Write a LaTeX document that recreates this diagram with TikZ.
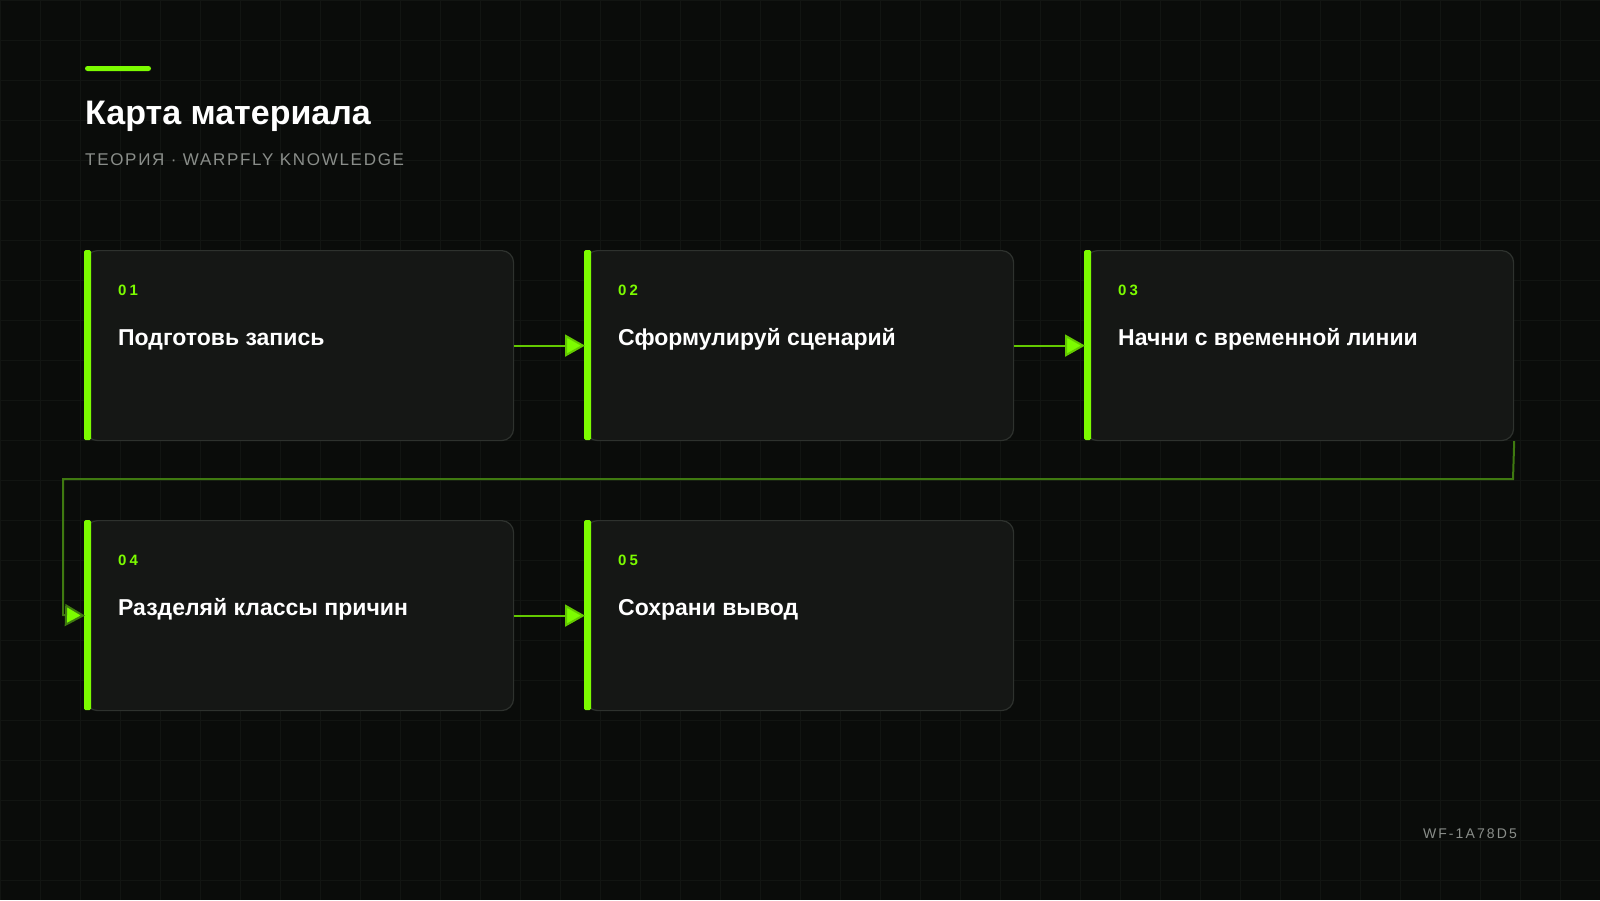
\documentclass[tikz,border=0pt]{standalone}
\usepackage{fontspec}
\setmainfont{Liberation Sans}
\usetikzlibrary{arrows.meta}
\definecolor{bg}{HTML}{0A0C0A}
\definecolor{gridc}{HTML}{121512}
\definecolor{card}{HTML}{151715}
\definecolor{cardb}{HTML}{2E322E}
\definecolor{lime}{HTML}{7CFC00}
\definecolor{dgreen}{HTML}{3F7A10}
\definecolor{sub}{HTML}{8A8E8A}
\begin{document}
\begin{tikzpicture}[x=1pt,y=-1pt,
  box/.style={draw=cardb,line width=1.2pt,fill=card,rounded corners=12pt,minimum width=428pt,minimum height=190pt,anchor=north west,inner sep=0pt},
  num/.style={anchor=base west,text=lime,font=\fontsize{15}{15}\selectfont\bfseries\addfontfeature{LetterSpace=20}},
  ttl/.style={anchor=base west,text=white,font=\fontsize{23}{23}\selectfont\bfseries},
  acc/.style={fill=lime,rounded corners=1.5pt},
  arr/.style={draw=lime!80!black,line width=2pt,-{Triangle[length=20pt,width=22pt,fill=lime]}},
  loop/.style={draw=dgreen,line width=2pt,-{Triangle[length=20pt,width=22pt,fill=lime]}}]
\useasboundingbox (0,0) rectangle (1600,900);
\fill[bg] (0,0) rectangle (1600,900);
\foreach \x in {0,40,...,1600} \draw[gridc,line width=0.6pt] (\x,0) -- (\x,900);
\foreach \y in {0,40,...,900} \draw[gridc,line width=0.6pt] (0,\y) -- (1600,\y);
\fill[lime,rounded corners=2.5pt] (85,66) rectangle (151,71);
\node[anchor=base west,text=white,font=\fontsize{34}{34}\selectfont\bfseries,inner sep=0pt] (h) at (85,124) {Карта материала};
\node[anchor=base west,text=sub,font=\fontsize{17}{17}\selectfont\addfontfeature{LetterSpace=10},inner sep=0pt] (s) at (85,165) {ТЕОРИЯ · WARPFLY KNOWLEDGE};
\foreach \n/\x/\y/\t in {1/85/250/Подготовь запись,2/585/250/Сформулируй сценарий,3/1085/250/Начни с временной линии,4/85/520/Разделяй классы причин,5/585/520/Сохрани вывод}{
  \node[box] (c\n) at (\x,\y) {};
  \fill[acc] (\x-1,\y) rectangle (\x+6,\y+190);
  \node[num,inner sep=0pt] (n\n) at (\x+33,\y+45) {0\n};
  \node[ttl,inner sep=0pt] (t\n) at (\x+33,\y+95) {\t};
}
\draw[arr] (c1.east) -- (c2.west);
\draw[arr] (c2.east) -- (c3.west);
\draw[arr] (c4.east) -- (c5.west);
\coordinate (k1) at (1513,479);
\coordinate (k2) at (63,479);
\coordinate (k3) at (63,615);
\draw[loop] (c3.south east) -- (k1) -- (k2) -- (k3) -- (c4.west);
\node[anchor=base east,text=sub,font=\fontsize{14}{14}\selectfont\addfontfeature{LetterSpace=15},inner sep=0pt] (f) at (1517,838) {WF-1A78D5};
\end{tikzpicture}
\end{document}
